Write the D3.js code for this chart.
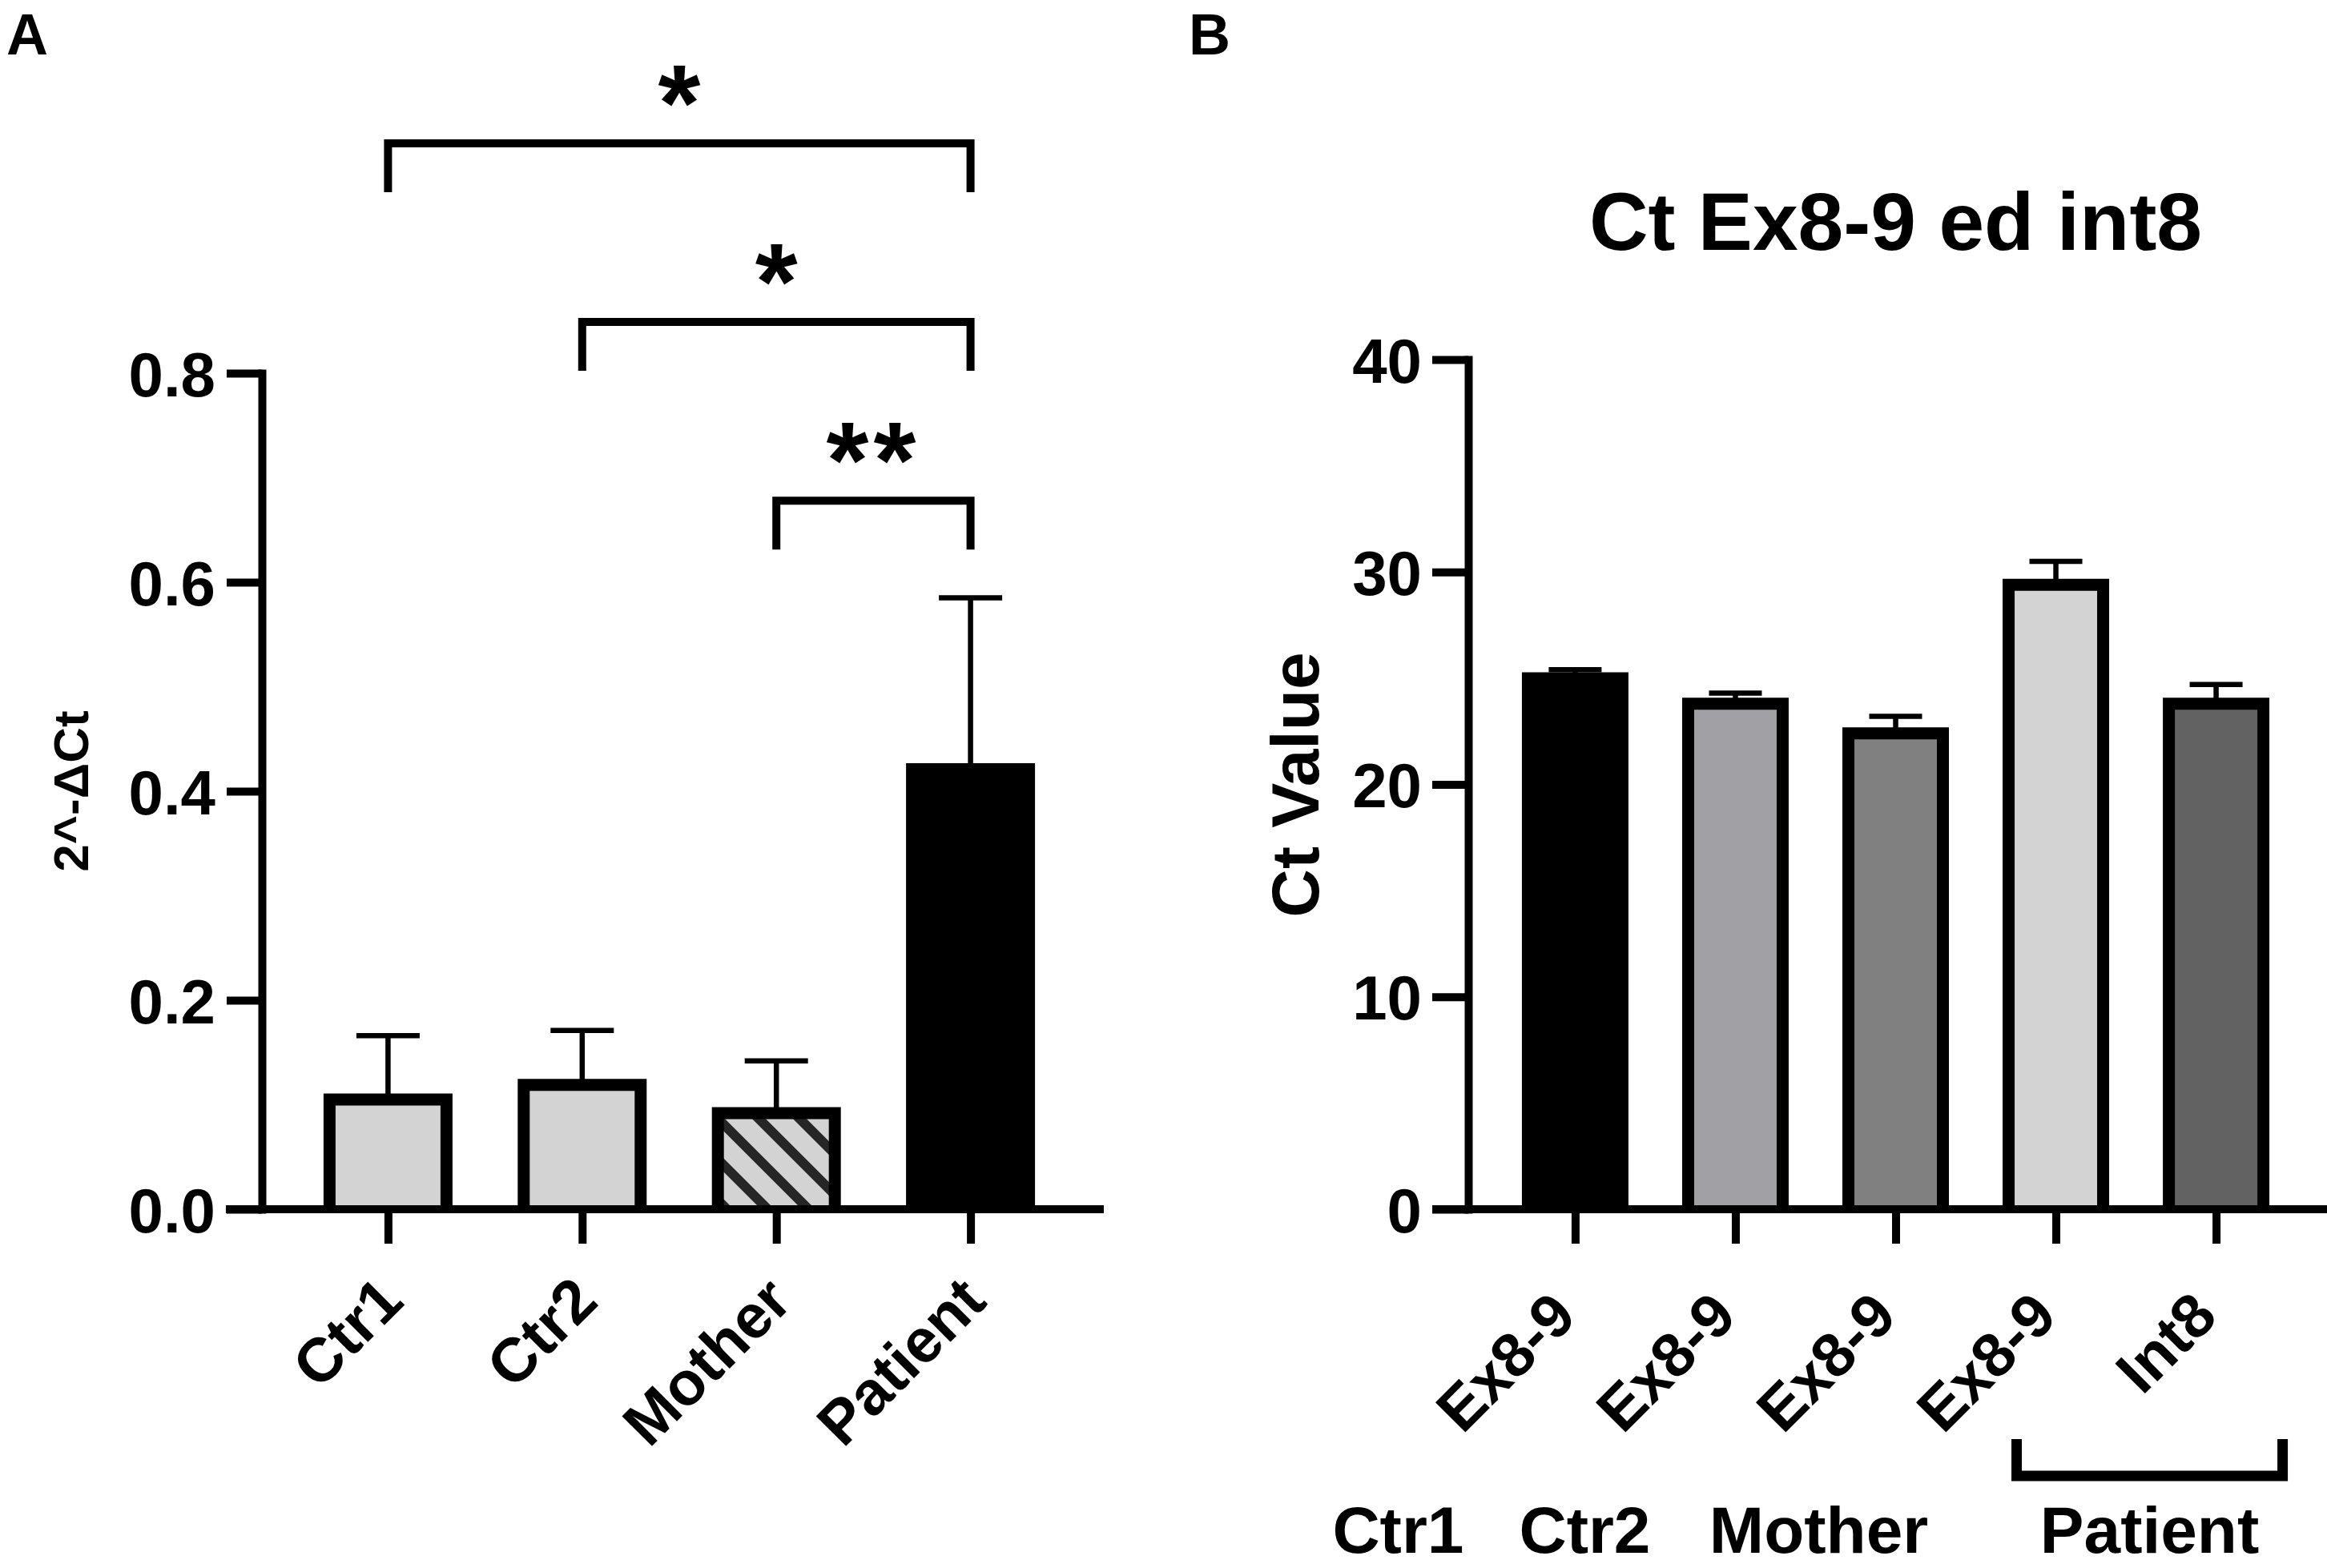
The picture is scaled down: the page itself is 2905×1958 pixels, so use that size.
<!DOCTYPE html>
<html>
<head>
<meta charset="utf-8">
<script src="https://cdn.jsdelivr.net/npm/d3@7"></script>
<style>
  html, body { margin: 0; padding: 0; background: #ffffff; }
  svg text { font-family: "Liberation Sans", Arial, Helvetica, sans-serif; font-weight: bold; fill: #000; }
</style>
</head>
<body>
<svg id="chart" width="2905" height="1958"></svg>
<script>
// ---------------- Panel A data ----------------
const groupsA   = ["Ctr1", "Ctr2", "Mother", "Patient"];
const meanA     = [0.105, 0.119, 0.092, 0.421];
const errTopA   = [0.166, 0.171, 0.142, 0.585];   // mean + SD
const fillA     = ["#d3d3d3", "#d3d3d3", "hatch", "#000000"];
const ticksA    = [0, 0.2, 0.4, 0.6, 0.8];
const compFrom  = ["Ctr1", "Ctr2", "Mother"];
const compTo    = ["Patient", "Patient", "Patient"];
const compLabel = ["*", "*", "**"];
const compLevel = [1.02, 0.849, 0.678];          // bracket height in data units

// ---------------- Panel B data ----------------
const barsB        = ["Ctr1 Ex8-9", "Ctr2 Ex8-9", "Mother Ex8-9", "Patient Ex8-9", "Patient Int8"];
const tickLabelsB  = ["Ex8-9", "Ex8-9", "Ex8-9", "Ex8-9", "Int8"];
const meanB        = [25.0, 23.8, 22.4, 29.4, 23.8];
const errTopB      = [25.4, 24.3, 23.2, 30.5, 24.7];
const fillB        = ["#000000", "#a1a1a5", "#808080", "#d3d3d3", "#626262"];
const ticksB       = [0, 10, 20, 30, 40];
const sampleLabelsB = ["Ctr1", "Ctr2", "Mother", "Patient"];
const titleB       = "Ct Ex8-9 ed int8";

// ---------------- setup ----------------
const svg = d3.select("#chart");
svg.append("rect").attr("width", 2905).attr("height", 1958).attr("fill", "#fff");

const defs = svg.append("defs");
const pat = defs.append("pattern")
  .attr("id", "hatch")
  .attr("patternUnits", "userSpaceOnUse")
  .attr("width", 36).attr("height", 36)
  .attr("patternTransform", "rotate(-45)");
pat.append("rect").attr("width", 36).attr("height", 36).attr("fill", "#d3d3d3");
pat.append("rect").attr("x", 0).attr("width", 12).attr("height", 36).attr("fill", "#262626");

const AXW = 10, BARW = 15, ERRW = 6.5;
const FONT = "'Liberation Sans', Arial, sans-serif";

// ================= PANEL A =================
const xA = d3.scalePoint().domain(groupsA).range([322, 1374]).padding(0.67);
const yA = d3.scaleLinear().domain([0, 0.8]).range([1510, 466]);
const gA = svg.append("g");
const bwA = 146;

gA.selectAll("path.bar").data(groupsA).join("path")
  .attr("class", "bar")
  .attr("d", (d, i) => `M${xA(d) - bwA / 2},${yA(0)}V${yA(meanA[i])}H${xA(d) + bwA / 2}V${yA(0)}`)
  .attr("fill", (d, i) => fillA[i] === "hatch" ? "url(#hatch)" : fillA[i])
  .attr("stroke", "#000").attr("stroke-width", BARW).attr("stroke-linejoin", "miter");

const capA = 79;
gA.selectAll("path.err").data(groupsA).join("path")
  .attr("class", "err")
  .attr("d", (d, i) => `M${xA(d)},${yA(meanA[i])}V${yA(errTopA[i])}M${xA(d) - capA / 2},${yA(errTopA[i])}H${xA(d) + capA / 2}`)
  .attr("fill", "none").attr("stroke", "#000").attr("stroke-width", ERRW);

const yAxisA = gA.append("g").attr("transform", "translate(327,0)")
  .call(d3.axisLeft(yA).tickValues(ticksA).tickFormat(d3.format(".1f"))
    .tickSize(44).tickPadding(14).tickSizeOuter(0));
yAxisA.select(".domain").attr("stroke-width", AXW).attr("stroke-linecap", "square");
yAxisA.selectAll(".tick line").attr("stroke-width", AXW);
yAxisA.selectAll(".tick text").attr("font-size", 78).attr("dy", "0.36em")
  .style("font-family", FONT).style("font-weight", "bold");

const xAxisA = gA.append("g").attr("transform", `translate(0,${yA(0)})`)
  .call(d3.axisBottom(xA).tickSize(43).tickSizeOuter(0));
xAxisA.select(".domain").remove();
xAxisA.append("line").attr("x1", 282).attr("x2", 1378).attr("y1", 0).attr("y2", 0)
  .attr("stroke", "#000").attr("stroke-width", AXW);
xAxisA.selectAll(".tick line").attr("stroke-width", AXW);
xAxisA.selectAll(".tick text")
  .attr("font-size", 77).attr("text-anchor", "end")
  .attr("x", 0).attr("y", 0).attr("dy", 0)
  .attr("transform", "translate(22,118) rotate(-45)")
  .style("font-family", FONT).style("font-weight", "bold");

gA.append("text").attr("transform", "translate(110,988) rotate(-90)")
  .attr("text-anchor", "middle").attr("font-size", 62).text("2^-ΔCt");

// significance brackets
const legLen = 61, starSize = 136;
compLabel.forEach((lab, i) => {
  const x1 = xA(compFrom[i]), x2 = xA(compTo[i]), yb = yA(compLevel[i]);
  gA.append("path")
    .attr("d", `M${x1},${yb + legLen}V${yb}H${x2}V${yb + legLen}`)
    .attr("fill", "none").attr("stroke", "#000").attr("stroke-width", AXW)
    .attr("stroke-linejoin", "miter");
  gA.append("text").attr("x", (x1 + x2) / 2).attr("y", yb - 4)
    .attr("text-anchor", "middle").attr("font-size", starSize)
    .attr("letter-spacing", lab.length > 1 ? 6 : 0).text(lab);
});

svg.append("text").attr("x", 8).attr("y", 68).attr("font-size", 72).text("A");

// ================= PANEL B =================
const xB = d3.scalePoint().domain(barsB).range([1833, 2900]).padding(0.667);
const yB = d3.scaleLinear().domain([0, 40]).range([1510, 449]);
const gB = svg.append("g");
const bwB = 118;

gB.selectAll("path.bar").data(barsB).join("path")
  .attr("class", "bar")
  .attr("d", (d, i) => `M${xB(d) - bwB / 2},${yB(0)}V${yB(meanB[i])}H${xB(d) + bwB / 2}V${yB(0)}`)
  .attr("fill", (d, i) => fillB[i])
  .attr("stroke", "#000").attr("stroke-width", BARW).attr("stroke-linejoin", "miter");

const capB = 66;
gB.selectAll("path.err").data(barsB).join("path")
  .attr("class", "err")
  .attr("d", (d, i) => `M${xB(d)},${yB(meanB[i])}V${yB(errTopB[i])}M${xB(d) - capB / 2},${yB(errTopB[i])}H${xB(d) + capB / 2}`)
  .attr("fill", "none").attr("stroke", "#000").attr("stroke-width", ERRW);

const yAxisB = gB.append("g").attr("transform", "translate(1833,0)")
  .call(d3.axisLeft(yB).tickValues(ticksB).tickFormat(d3.format("d"))
    .tickSize(45).tickPadding(13).tickSizeOuter(0));
yAxisB.select(".domain").attr("stroke-width", AXW).attr("stroke-linecap", "square");
yAxisB.selectAll(".tick line").attr("stroke-width", AXW);
yAxisB.selectAll(".tick text").attr("font-size", 78).attr("dy", "0.36em")
  .style("font-family", FONT).style("font-weight", "bold");

const xAxisB = gB.append("g").attr("transform", `translate(0,${yB(0)})`)
  .call(d3.axisBottom(xB).tickSize(43).tickSizeOuter(0)
    .tickFormat((d, i) => tickLabelsB[i]));
xAxisB.select(".domain").remove();
xAxisB.append("line").attr("x1", 1788).attr("x2", 2905).attr("y1", 0).attr("y2", 0)
  .attr("stroke", "#000").attr("stroke-width", AXW);
xAxisB.selectAll(".tick line").attr("stroke-width", AXW);
xAxisB.selectAll(".tick text")
  .attr("font-size", 77).attr("text-anchor", "end")
  .attr("x", 0).attr("y", 0).attr("dy", 0)
  .attr("transform", "translate(4,137) rotate(-45)")
  .style("font-family", FONT).style("font-weight", "bold");

gB.append("text").attr("transform", "translate(1646,980) rotate(-90)")
  .attr("text-anchor", "middle").attr("font-size", 84).text("Ct Value");

gB.append("text").attr("x", (1833 + 2900) / 2).attr("y", 312)
  .attr("text-anchor", "middle").attr("font-size", 102).text(titleB);

const pb1 = xB(barsB[3]) - 49, pb2 = xB(barsB[4]) + 83;
gB.append("path").attr("d", `M${pb1},1797V1843H${pb2}V1797`)
  .attr("fill", "none").attr("stroke", "#000").attr("stroke-width", 13);

const sampleX = [xB(barsB[0]) - 221, xB(barsB[1]) - 188, xB(barsB[2]) - 96, (pb1 + pb2) / 2];
gB.selectAll("text.sample").data(sampleLabelsB).join("text")
  .attr("class", "sample")
  .attr("x", (d, i) => sampleX[i]).attr("y", 1939)
  .attr("text-anchor", "middle").attr("font-size", 82).text(d => d);

svg.append("text").attr("x", 1484).attr("y", 68).attr("font-size", 72).text("B");
</script>
</body>
</html>
